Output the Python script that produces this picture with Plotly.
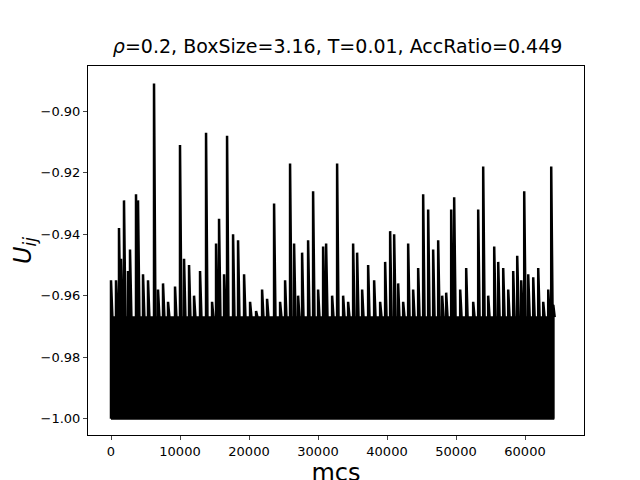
import plotly.graph_objects as go

spike_mcs = [0,725,1160,1450,1885,2465,2755,3625,3915,4640,5365,6235,6815,7540,8265,9280,10000,10585,11310,12035,12905,13775,14645,15225,15660,16385,16820,17690,18415,19285,20155,21025,21895,22620,23635,24505,25230,25950,26535,27115,27695,28565,29290,30015,30740,31175,32045,32770,33640,34365,35090,35670,36395,37265,38135,39005,39730,40455,41035,41615,42340,43065,43790,44515,45240,45965,46690,47415,47995,48575,49300,49735,50605,51475,52490,53215,53940,54665,55535,56115,56840,57565,58290,58870,59450,59885,60465,61190,61915,62640,63365,63800,64100]
spike_u = [-0.955,-0.955,-0.938,-0.948,-0.929,-0.952,-0.945,-0.927,-0.929,-0.953,-0.955,-0.891,-0.958,-0.956,-0.962,-0.957,-0.911,-0.948,-0.950,-0.960,-0.952,-0.907,-0.962,-0.943,-0.935,-0.953,-0.908,-0.940,-0.942,-0.953,-0.962,-0.965,-0.958,-0.961,-0.930,-0.962,-0.955,-0.917,-0.943,-0.960,-0.946,-0.942,-0.926,-0.958,-0.944,-0.943,-0.960,-0.917,-0.960,-0.962,-0.943,-0.946,-0.958,-0.950,-0.955,-0.962,-0.949,-0.939,-0.940,-0.956,-0.962,-0.943,-0.958,-0.951,-0.927,-0.932,-0.945,-0.942,-0.960,-0.959,-0.932,-0.928,-0.958,-0.951,-0.962,-0.932,-0.918,-0.960,-0.944,-0.949,-0.951,-0.958,-0.952,-0.947,-0.955,-0.926,-0.953,-0.954,-0.951,-0.962,-0.958,-0.918,-0.963]
band_min = -1.0
band_top = -0.967

xs, ys = [], []
for m, u in zip(spike_mcs, spike_u):
    xs += [m, m, m + 200]
    ys += [band_min, u, band_top]

fig = go.Figure()
fig.add_trace(go.Scatter(x=[spike_mcs[0], spike_mcs[-1], spike_mcs[-1], spike_mcs[0]],
                         y=[band_min, band_min, band_top, band_top], fill="toself",
                         fillcolor="black", line=dict(color="black", width=2), mode="lines"))
fig.add_trace(go.Scatter(x=xs, y=ys, mode="lines", line=dict(color="black", width=2.5)))

fig.update_layout(
    width=640, height=480, showlegend=False, plot_bgcolor="white", paper_bgcolor="white",
    margin=dict(l=80, r=64, t=58, b=53, autoexpand=False),
    font=dict(family="DejaVu Sans", size=13, color="black"),
    title=dict(text="<i>ρ</i>=0.2, BoxSize=3.16, T=0.01, AccRatio=0.449", x=0.515, y=0.935,
               xanchor="center", font=dict(size=19)),
    xaxis=dict(title=dict(text="mcs", font=dict(size=24), standoff=4), range=[-3333, 68550],
               tickvals=[0,10000,20000,30000,40000,50000,60000],
               ticktext=["0","10000","20000","30000","40000","50000","60000"], showgrid=False, zeroline=False,
               showline=True, mirror=True, linecolor="black", ticks="outside", ticklen=4, automargin=False),
    yaxis=dict(title=dict(text="<i>U<sub>ij</sub></i>", font=dict(size=24), standoff=2),
               range=[-1.0053, -0.8853], tickvals=[-1.0,-0.98,-0.96,-0.94,-0.92,-0.90],
               ticktext=["−1.00","−0.98","−0.96","−0.94","−0.92","−0.90"], showgrid=False,
               zeroline=False, showline=True, mirror=True, linecolor="black", ticks="outside", ticklen=4,
               automargin=False),
)
fig.write_html("out.html")
